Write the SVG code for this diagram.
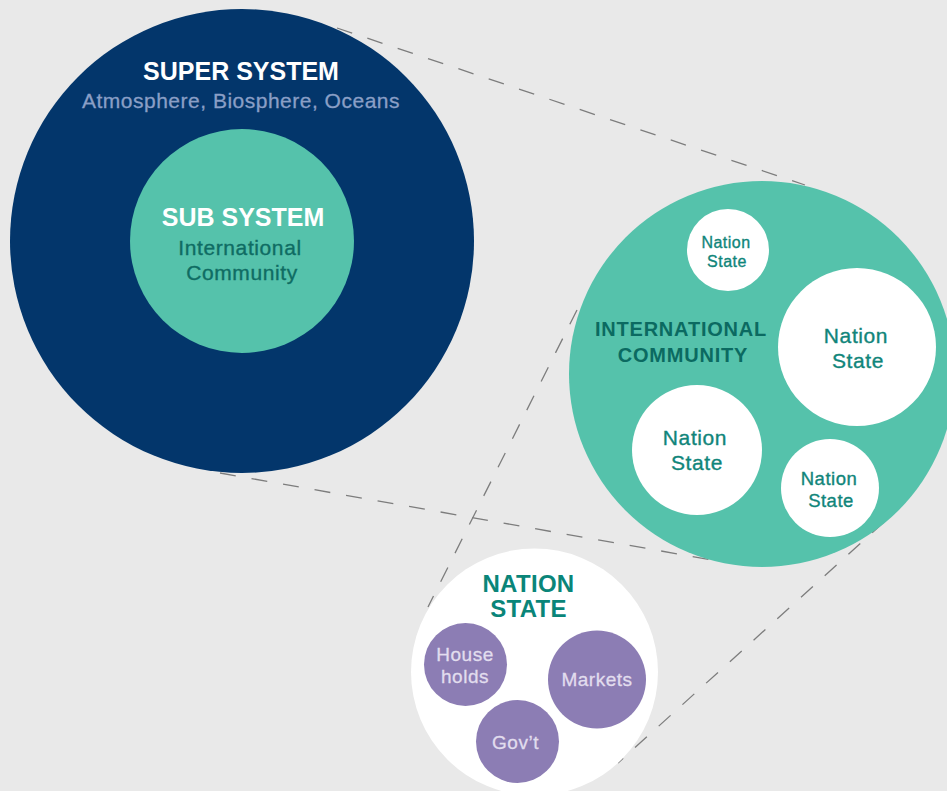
<svg xmlns="http://www.w3.org/2000/svg" width="947" height="791" viewBox="0 0 947 791">
<style>
text{font-family:"Liberation Sans",Arial,sans-serif;text-anchor:middle}
.title{font-weight:bold;fill:#ffffff;font-size:25px}
.sub{fill:#8a9fc6;font-size:21px;letter-spacing:0.5px;stroke:#8a9fc6;stroke-width:0.3px}
.ic{fill:#0f6c63;font-size:21px;letter-spacing:0.6px;stroke:#0f6c63;stroke-width:0.35px}
.teal{font-weight:bold;fill:#0b6a61;font-size:20px;letter-spacing:0.8px}
.ns{fill:#10857a;stroke:#10857a;stroke-width:0.35px}
.nsb{font-weight:bold;fill:#0a8579;font-size:24px;letter-spacing:0.3px}
.pt{fill:#e2ddee;font-size:19px;letter-spacing:0.5px;stroke:#e2ddee;stroke-width:0.3px}
.dash{stroke:#7d7d7d;stroke-width:1.3;stroke-dasharray:16 16;fill:none}
</style>
<rect x="0" y="0" width="947" height="791" fill="#e9e9e9"/>
<g id="connectors">
<line class="dash" x1="337" y1="28" x2="805" y2="185"/>
<line class="dash" x1="220" y1="473" x2="712" y2="560"/>
<line class="dash" x1="577" y1="310" x2="428" y2="607"/>
<line class="dash" x1="884" y1="522" x2="618" y2="763"/>
</g>
<g id="super-system">
<circle cx="242" cy="241" r="232" fill="#03366b"/>
<text class="title" x="241" y="80">SUPER SYSTEM</text>
<text class="sub" x="241" y="108">Atmosphere, Biosphere, Oceans</text>
</g>
<g id="sub-system">
<circle cx="242" cy="241" r="112" fill="#55c2ab"/>
<text class="title" x="243" y="226">SUB SYSTEM</text>
<text class="ic" x="240" y="255">International</text>
<text class="ic" x="242" y="280">Community</text>
</g>
<g id="international-community">
<circle cx="762" cy="374" r="193" fill="#55c2ab"/>
<text class="teal" x="681" y="336">INTERNATIONAL</text>
<text class="teal" x="683" y="362">COMMUNITY</text>
</g>
<g id="nation-state-1">
<circle cx="728" cy="250" r="41" fill="#ffffff"/>
<text class="ns" x="726" y="248" font-size="16" letter-spacing="0.5">Nation</text>
<text class="ns" x="727" y="267" font-size="16" letter-spacing="0.5">State</text>
</g>
<g id="nation-state-2">
<circle cx="857" cy="347" r="79" fill="#ffffff"/>
<text class="ns" x="856" y="343" font-size="21" letter-spacing="0.6">Nation</text>
<text class="ns" x="858" y="368" font-size="21" letter-spacing="0.6">State</text>
</g>
<g id="nation-state-3">
<circle cx="697" cy="450" r="65" fill="#ffffff"/>
<text class="ns" x="695" y="445" font-size="21" letter-spacing="0.6">Nation</text>
<text class="ns" x="697" y="470" font-size="21" letter-spacing="0.6">State</text>
</g>
<g id="nation-state-4">
<circle cx="830" cy="488" r="49" fill="#ffffff"/>
<text class="ns" x="829" y="485" font-size="18.5" letter-spacing="0.5">Nation</text>
<text class="ns" x="831" y="507" font-size="18.5" letter-spacing="0.5">State</text>
</g>
<g id="nation-state">
<circle cx="534.5" cy="672" r="123.5" fill="#ffffff"/>
<text class="nsb" x="528.5" y="592">NATION</text>
<text class="nsb" x="528.5" y="617">STATE</text>
</g>
<g id="households">
<circle cx="465.5" cy="664.5" r="41.5" fill="#8c7db4"/>
<text class="pt" x="465" y="661">House</text>
<text class="pt" x="465" y="683">holds</text>
</g>
<g id="markets">
<circle cx="597" cy="679.5" r="49" fill="#8c7db4"/>
<text class="pt" x="597" y="686" font-size="20.5">Markets</text>
</g>
<g id="govt">
<circle cx="517.5" cy="741.5" r="41.5" fill="#8c7db4"/>
<text class="pt" x="515.5" y="749" font-size="20">Gov’t</text>
</g>
</svg>
